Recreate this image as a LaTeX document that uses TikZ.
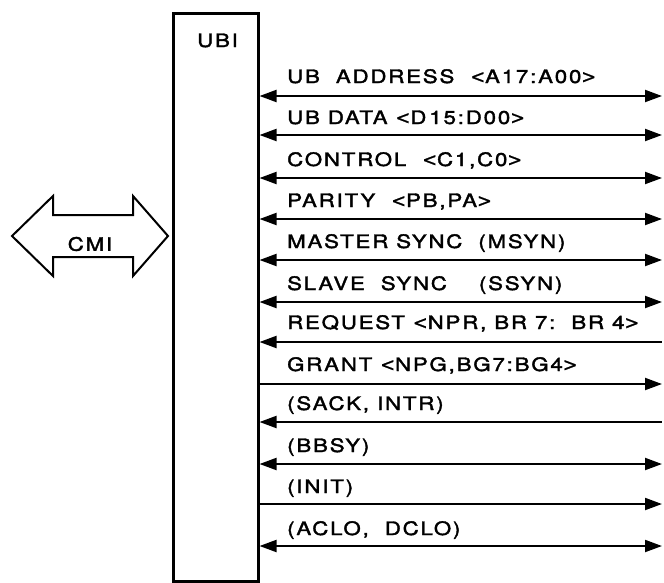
\documentclass[tikz,border=0pt]{standalone}
\usepackage{fontspec}
\setmainfont{TeX Gyre Heros}[FakeStretch=1.2, LetterSpace=10, FakeBold=2]
\newfontfamily\brk{DejaVu Sans}[FakeStretch=0.95, FakeBold=1]
\newcommand{\lt}{{\brk<}}
\newcommand{\gt}{{\brk>}}
\usetikzlibrary{arrows.meta}
\begin{document}
\begin{tikzpicture}[x=1pt,y=-1pt,
  every node/.style={font=\fontsize{18.5}{20}\selectfont, inner sep=0pt},
  sig/.style={line width=2pt},
  stip/.tip={Triangle[length=17pt,width=12pt]},
  lbl/.style={anchor=base west}]
\useasboundingbox (0,0) rectangle (664,582);
% UBI box
\node[draw, line width=3pt, minimum width=85pt, minimum height=568pt] (ubi) at (215.5,297) {};
\node[lbl] (ubit) at (197,47) {UBI};
% CMI double arrow
\draw[line width=2pt, line join=miter] (12,236) -- (53,196) -- (53,215) -- (133,215) -- (133,196)
  -- (168,236) -- (133,276) -- (133,257) -- (53,257) -- (53,276) -- cycle;
\node (cmi) at (90,244) {CMI};
% right end coordinates
\foreach \n/\y in {1/96,2/135,3/178,4/219,5/260,6/302,7/342,8/384,9/422,10/464,11/504,12/546}
  \coordinate (r\n) at (662,\y);
% signal lines
\draw[sig,{stip}-{stip}] (ubi.east |- r1) -- (r1);
\draw[sig,{stip}-{stip}] (ubi.east |- r2) -- (r2);
\draw[sig,{stip}-{stip}] (ubi.east |- r3) -- (r3);
\draw[sig,{stip}-{stip}] (ubi.east |- r4) -- (r4);
\draw[sig,{stip}-{stip}] (ubi.east |- r5) -- (r5);
\draw[sig,{stip}-{stip}] (ubi.east |- r6) -- (r6);
\draw[sig,{stip}-] (ubi.east |- r7) -- (r7);
\draw[sig,-{stip}] (ubi.east |- r8) -- (r8);
\draw[sig,{stip}-] (ubi.east |- r9) -- (r9);
\draw[sig,{stip}-{stip}] (ubi.east |- r10) -- (r10);
\draw[sig,-{stip}] (ubi.east |- r11) -- (r11);
\draw[sig,{stip}-{stip}] (ubi.east |- r12) -- (r12);
% labels
\node[lbl] (t1) at (287,83) {UB\ \ ADDRESS\ \ \lt A17:A00\gt};
\node[lbl] (t2) at (287,124) {UB DATA \lt D\,15:D00\gt};
\node[lbl] (t3) at (287,166) {CONTROL\ \ \lt C1,C0\gt};
\node[lbl] (t4) at (287,207) {PARITY\ \ \lt PB,PA\gt};
\node[lbl] (t5) at (287,248) {MASTER SYNC\ \ (MSYN)};
\node[lbl] (t6) at (287,290) {SLAVE\ \ SYNC\ \ \ \ (SSYN)};
\node[lbl] (t7) at (287,329) {REQUEST \lt NPR, BR 7:\ \ BR 4\gt};
\node[lbl] (t8) at (287,371) {GRANT \lt NPG,BG7:BG4\gt};
\node[lbl] (t9) at (287,410) {(SACK, INTR)};
\node[lbl] (t10) at (287,452) {(BBSY)};
\node[lbl] (t11) at (287,493) {(INIT)};
\node[lbl] (t12) at (287,535) {(ACLO,\ \ DCLO)};
\end{tikzpicture}
\end{document}
